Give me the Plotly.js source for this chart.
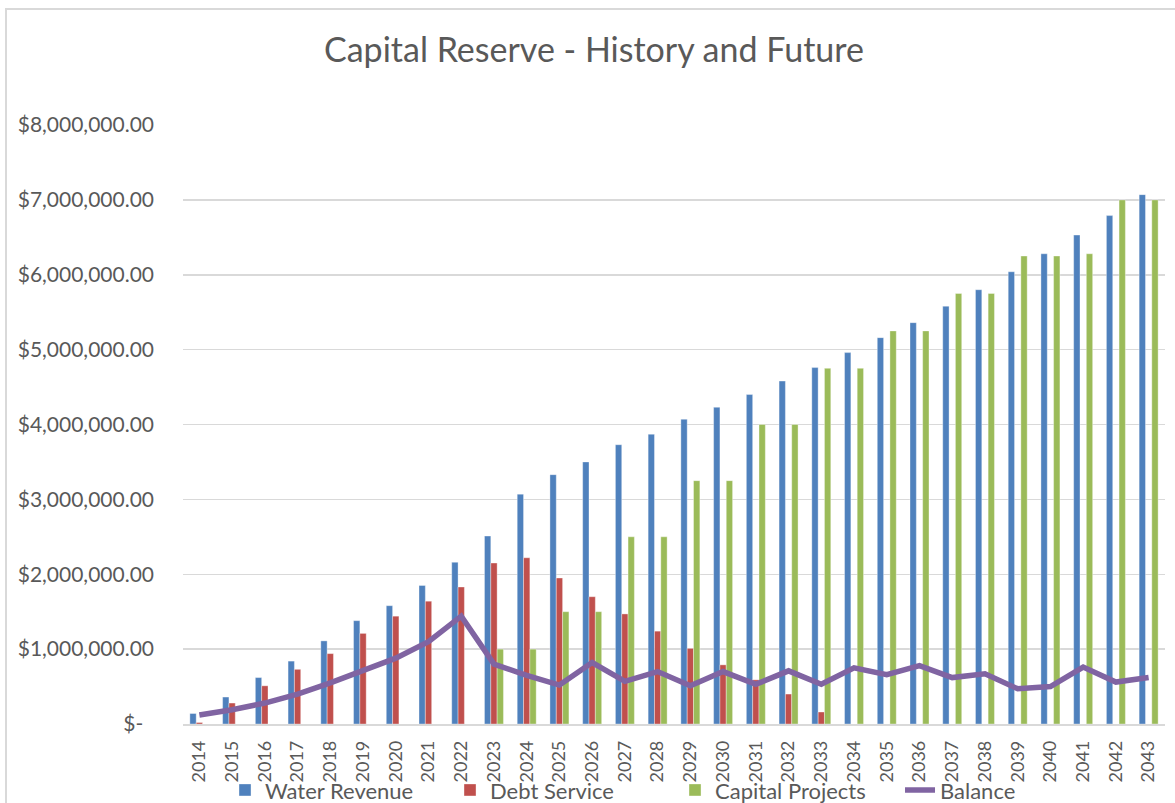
<!DOCTYPE html>
<html>
<head>
<meta charset="utf-8">
<script src="https://cdn.plot.ly/plotly-3.0.1.min.js"></script>
<style>
  html, body { margin: 0; padding: 0; background: #ffffff; }
  #chart { position: absolute; left: 0; top: 0; width: 1175px; height: 803px; }
  #frame { position: absolute; left: 5px; top: 8px; width: 1200px; height: 820px;
           border-left: 2px solid #d9d9d9; border-top: 2px solid #d9d9d9; pointer-events: none; }
</style>
</head>
<body>
<div id="chart"></div>
<div id="frame"></div>
<script>
const years = ["2014","2015","2016","2017","2018","2019","2020","2021","2022","2023",
               "2024","2025","2026","2027","2028","2029","2030","2031","2032","2033",
               "2034","2035","2036","2037","2038","2039","2040","2041","2042","2043"];

const waterRevenue = [140000, 360000, 620000, 840000, 1110000, 1380000, 1580000, 1850000, 2160000, 2510000,
                      3070000, 3330000, 3500000, 3730000, 3870000, 4070000, 4230000, 4400000, 4580000, 4760000,
                      4960000, 5160000, 5360000, 5580000, 5800000, 6040000, 6280000, 6530000, 6790000, 7070000];

const debtService = [20000, 280000, 510000, 730000, 940000, 1210000, 1440000, 1640000, 1830000, 2150000,
                     2220000, 1950000, 1700000, 1470000, 1240000, 1010000, 790000, 590000, 400000, 160000,
                     null, null, null, null, null, null, null, null, null, null];

const capitalProjects = [null, null, null, null, null, null, null, null, null, 1000000,
                         1000000, 1500000, 1500000, 2500000, 2500000, 3250000, 3250000, 4000000, 4000000, 4750000,
                         4750000, 5250000, 5250000, 5750000, 5750000, 6250000, 6250000, 6280000, 7000000, 7000000];

const balance = [120000, 190000, 280000, 400000, 550000, 720000, 880000, 1100000, 1440000, 800000,
                 650000, 520000, 820000, 570000, 700000, 510000, 700000, 530000, 710000, 530000,
                 750000, 660000, 780000, 620000, 670000, 470000, 500000, 760000, 560000, 620000];

const yTickVals = [0, 1000000, 2000000, 3000000, 4000000, 5000000, 6000000, 7000000, 8000000];
const yTickText = ["$-\u00a0\u00a0", "$1,000,000.00", "$2,000,000.00", "$3,000,000.00", "$4,000,000.00",
                   "$5,000,000.00", "$6,000,000.00", "$7,000,000.00", "$8,000,000.00"];

const FONT = "Lato, 'Open Sans', sans-serif";
const GREY = "#595959";

const traces = [
  { type: "bar", name: "Water Revenue", x: years, y: waterRevenue,
    marker: { color: "#4F81BD", line: { color: "rgba(255,255,255,0.6)", width: 0.6 } } },
  { type: "bar", name: "Debt Service", x: years, y: debtService,
    marker: { color: "#C0504D", line: { color: "rgba(255,255,255,0.6)", width: 0.6 } } },
  { type: "bar", name: "Capital Projects", x: years, y: capitalProjects,
    marker: { color: "#9BBB59", line: { color: "rgba(255,255,255,0.6)", width: 0.6 } } },
  { type: "scatter", mode: "lines", name: "Balance", x: years, y: balance,
    line: { color: "#8064A2", width: 5.5, shape: "linear" } }
];

const layout = {
  width: 1175, height: 803,
  margin: { l: 183, r: 10, t: 125, b: 79 },
  paper_bgcolor: "rgba(0,0,0,0)",
  plot_bgcolor: "rgba(0,0,0,0)",
  font: { family: FONT, color: GREY },
  title: { text: "Capital Reserve - History and Future",
           font: { family: FONT, size: 34, color: GREY },
           xref: "container", x: 0.5055, xanchor: "center",
           yref: "container", y: 0.937, yanchor: "middle" },
  barmode: "group",
  bargap: 0.42,
  bargroupgap: 0,
  showlegend: true,
  legend: { orientation: "h", xref: "container", x: 0.1915, xanchor: "left",
            yref: "container", y: 0.016, yanchor: "middle",
            font: { family: FONT, size: 22, color: GREY }, itemwidth: 30,
            entrywidth: 180, entrywidthmode: "pixels",
            traceorder: "normal", bgcolor: "rgba(0,0,0,0)" },
  xaxis: { type: "category", tickangle: -90, tickfont: { family: FONT, size: 18, color: GREY },
           showgrid: false, showline: true, linecolor: "#d9d9d9", linewidth: 1.5,
           ticks: "", ticklabelstandoff: 8, automargin: false, fixedrange: true },
  yaxis: { range: [0, 8000000], tickmode: "array", tickvals: yTickVals, ticktext: yTickText,
           tickfont: { family: FONT, size: 21, color: GREY },
           showgrid: true, gridcolor: "#d9d9d9", gridwidth: 1.5, zeroline: false,
           showline: false, ticks: "", ticklabelstandoff: 28, automargin: false, fixedrange: true }
};

Plotly.newPlot("chart", traces, layout, { displayModeBar: false, staticPlot: true });
</script>
</body>
</html>
